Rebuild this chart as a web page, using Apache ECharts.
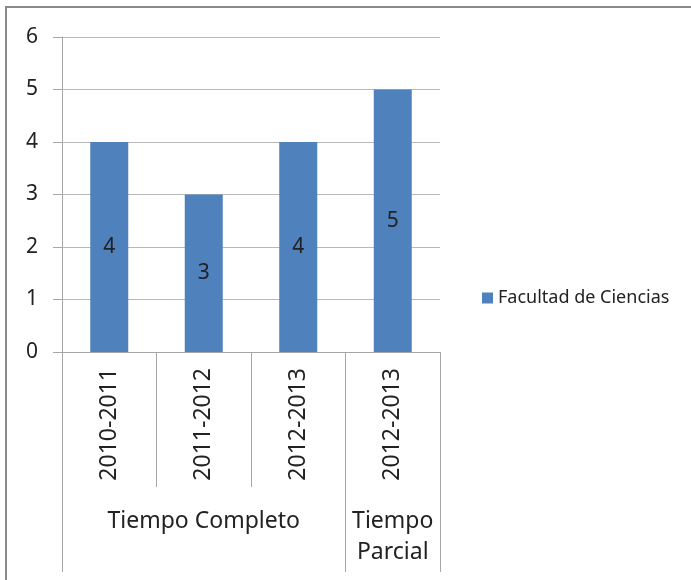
<!DOCTYPE html>
<html>
<head>
<meta charset="utf-8">
<script src="https://cdn.jsdelivr.net/npm/echarts@6/dist/echarts.min.js"></script>
<style>
html, body { margin: 0; padding: 0; background: #fff; }
#wrap { position: relative; width: 691px; height: 580px; overflow: hidden; }
#chart { width: 691px; height: 580px; }
#frame {
    position: absolute; left: 5px; top: 6px; width: 800px; height: 700px;
    border-top: 2px solid #8a8a8a; border-left: 2px solid #8a8a8a;
    pointer-events: none;
}
</style>
</head>
<body>
<div id="wrap">
    <div id="chart"></div>
    <div id="frame"></div>
</div>
<script>
// datos
var categories = ['2010-2011', '2011-2012', '2012-2013', '2012-2013'];
var values = [4, 3, 4, 5];
var groups = ['Tiempo Completo', 'Tiempo\nParcial'];
var groupSpans = [3, 1];
var seriesName = 'Facultad de Ciencias';

// limites y centros de los grupos
var bounds = [0];
var centers = [];
groupSpans.forEach(function (s) {
    var start = bounds[bounds.length - 1];
    centers.push(start + s / 2);
    bounds.push(start + s);
});

var font = 'Noto Sans';
var gray = '#a6a6a6';

var chart = echarts.init(document.getElementById('chart'));
var option = {
    animation: false,
    textStyle: { fontFamily: font },
    grid: { left: 62, right: 251, top: 37, bottom: 228 },
    legend: {
        orient: 'vertical',
        left: 477,
        top: 284,
        icon: 'rect',
        itemWidth: 11,
        itemHeight: 11,
        textStyle: { fontFamily: font, fontSize: 18, color: '#222' },
        data: [seriesName]
    },
    yAxis: {
        type: 'value',
        min: 0,
        max: 6,
        interval: 1,
        axisLine: { show: true, lineStyle: { color: gray } },
        axisTick: { show: true, length: 9, lineStyle: { color: gray } },
        splitLine: { lineStyle: { color: '#b8b8b8' } },
        axisLabel: { margin: 24, fontSize: 21, color: '#222', fontFamily: font }
    },
    xAxis: [
        {
            type: 'category',
            data: categories,
            axisLine: { lineStyle: { color: gray } },
            axisTick: { show: true, interval: 0, length: 135, lineStyle: { color: gray } },
            axisLabel: {
                interval: 0,
                rotate: 90,
                margin: 16,
                fontSize: 23,
                color: '#222',
                fontFamily: font
            }
        },
        {
            type: 'value',
            position: 'bottom',
            min: 0,
            max: categories.length,
            axisLine: { show: false },
            splitLine: { show: false },
            axisTick: { show: true, customValues: bounds, length: 220, lineStyle: { color: gray } },
            axisLabel: {
                customValues: centers,
                margin: 154,
                fontSize: 23,
                lineHeight: 31,
                color: '#222',
                fontFamily: font,
                formatter: function (v) {
                    var i = centers.indexOf(v);
                    return i >= 0 ? groups[i] : '';
                }
            }
        }
    ],
    series: [
        {
            name: seriesName,
            type: 'bar',
            xAxisIndex: 0,
            barWidth: 38,
            itemStyle: { color: '#4f81bd' },
            label: {
                show: true,
                position: 'inside',
                fontSize: 21,
                color: '#222',
                fontFamily: font
            },
            data: values
        }
    ]
};
chart.setOption(option);
</script>
</body>
</html>
